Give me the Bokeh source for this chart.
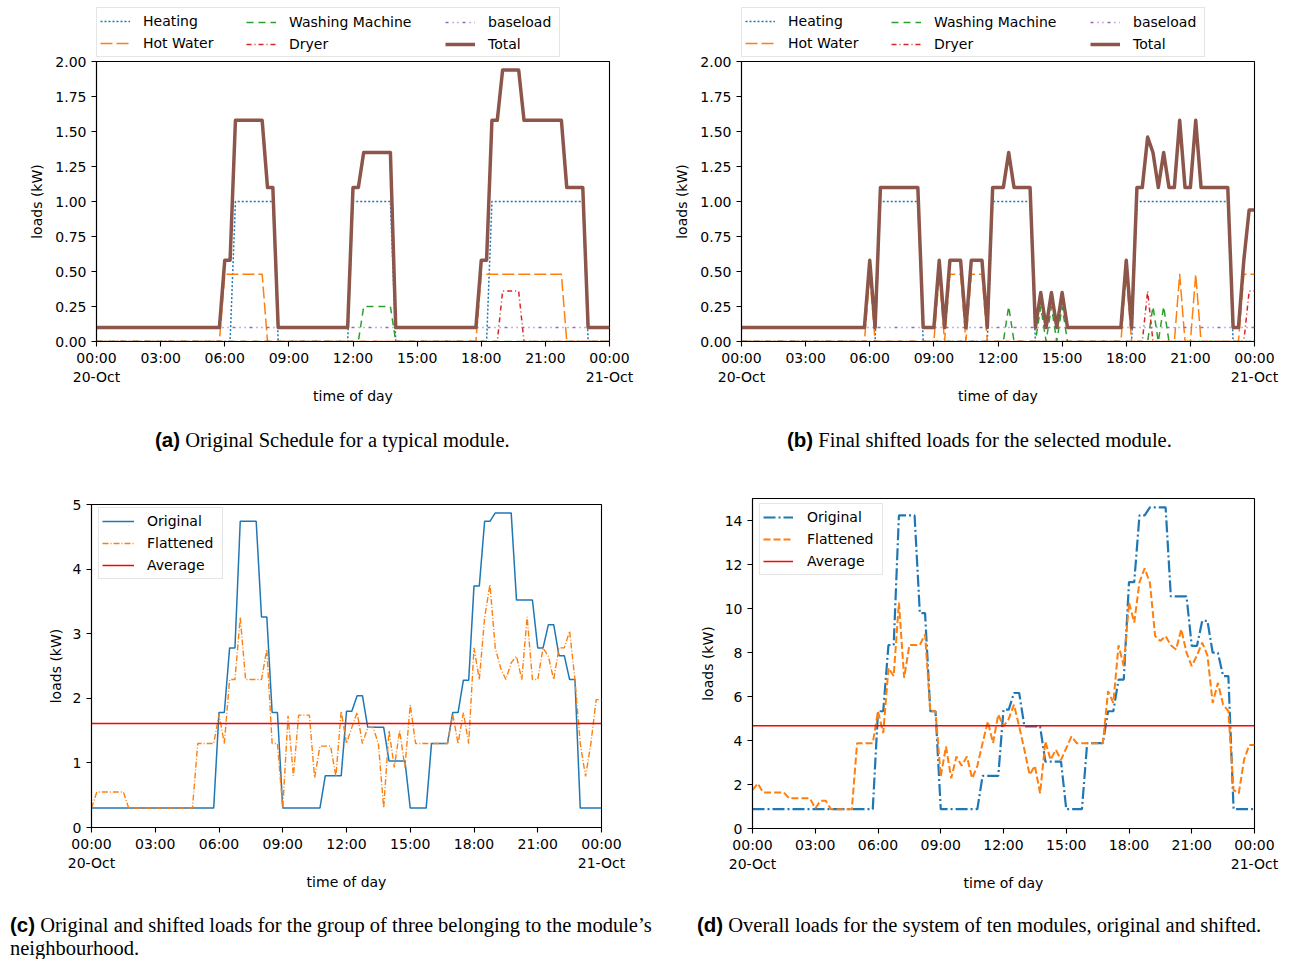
from bokeh.plotting import figure
from bokeh.models import Range1d, FixedTicker, PrintfTickFormatter, Legend, LegendItem, Div
from bokeh.layouts import column, row
from bokeh.embed import file_html
from bokeh.resources import INLINE

# ---------------------------------------------------------------------------
# Time axis: 15-minute slots from 00:00 20-Oct to 00:00 21-Oct (hours)
# ---------------------------------------------------------------------------
slots = [i * 0.25 for i in range(97)]
hour_ticks = [0, 3, 6, 9, 12, 15, 18, 21, 24]
hour_labels = {0: "00:00\n20-Oct", 3: "03:00", 6: "06:00", 9: "09:00", 12: "12:00",
               15: "15:00", 18: "18:00", 21: "21:00", 24: "00:00\n21-Oct"}

# ---------------------------------------------------------------------------
# (a) original schedule of one module, kW per appliance
# ---------------------------------------------------------------------------
heating_a = [0.0] * 26 + [1.0] * 8 + [0.0] * 14 + [1.0] * 8 + [0.0] * 18 + [1.0] * 18 + [0.0] * 5
hot_water_a = [0.0] * 24 + [0.48] * 8 + [0.0] * 40 + [0.48] * 16 + [0.0] * 9
washing_a = [0.0] * 50 + [0.25] * 6 + [0.0] * 41
dryer_a = [0.0] * 76 + [0.36] * 4 + [0.0] * 17
baseload_a = [0.1] * 97

# ---------------------------------------------------------------------------
# (b) shifted schedule of the same module, kW per appliance
# ---------------------------------------------------------------------------
heating_b = [0.0] * 26 + [1.0] * 8 + [0.0] * 13 + [1.0] * 8 + [0.0] * 19 + [1.0] * 18 + [0.0] * 5
hot_water_b = ([0.0] * 24 + [0.48] + [0.0] * 12 + [0.48] + [0.0] + [0.48] * 3 + [0.0] + [0.48] * 3
               + [0.0] * 26 + [0.48] + [0.0] * 9 + [0.48] + [0.0] * 2 + [0.48] + [0.0] * 8 + [0.48] * 3)
washing_b = ([0.0] * 50 + [0.25] + [0.0] * 5 + [0.25] + [0.0] + [0.25] + [0.0] + [0.25]
             + [0.0] * 16 + [0.25] + [0.0] + [0.25] + [0.0] * 17)
dryer_b = [0.0] * 76 + [0.36] + [0.0] * 18 + [0.36] * 2
baseload_b = [0.1] * 97

# ---------------------------------------------------------------------------
# (c) group of three modules, kW
# ---------------------------------------------------------------------------
group_original = ([0.3] * 24 + [1.78] * 2 + [2.78] * 2 + [4.74] * 4 + [3.26] * 2 + [1.78] * 2
                  + [0.3] * 8 + [0.8] * 4 + [1.8] * 2 + [2.04] * 2 + [1.55] * 4 + [1.03] * 4
                  + [0.3] * 4 + [1.3] * 4 + [1.78] * 2 + [2.28] * 2 + [3.74] * 2 + [4.74] * 2
                  + [4.87] * 4 + [3.52] * 4 + [2.78] * 2 + [3.14] * 2 + [2.66] * 2 + [2.29] * 2
                  + [0.3] * 5)
group_flattened = [
    0.3, 0.55, 0.55, 0.55, 0.55, 0.55, 0.55, 0.3, 0.3, 0.3, 0.3, 0.3, 0.3, 0.3, 0.3, 0.3,
    0.3, 0.3, 0.3, 0.3, 1.3, 1.3, 1.3, 1.3, 1.75, 1.3, 2.29, 2.29, 3.25, 2.29, 2.29, 2.29,
    2.29, 2.76, 1.3, 1.3, 0.3, 1.73, 0.8, 1.74, 1.74, 1.74, 0.77, 1.26, 1.26, 1.26, 0.79, 1.8,
    1.3, 1.55, 1.78, 1.3, 1.55, 1.55, 1.3, 0.3, 1.5, 0.93, 1.5, 0.93, 1.9, 1.3, 1.3, 1.3,
    1.3, 1.3, 1.3, 1.3, 1.75, 1.3, 1.78, 1.3, 2.78, 2.29, 3.25, 3.76, 2.78, 2.47, 2.29, 2.55,
    2.65, 2.29, 3.26, 2.29, 2.29, 2.78, 2.65, 2.29, 2.78, 2.78, 3.04, 2.29, 1.3, 0.79, 1.3, 1.98,
    1.98]
group_average = 1.61

# ---------------------------------------------------------------------------
# (d) whole system of ten modules, kW
# ---------------------------------------------------------------------------
system_original = ([0.88] * 24 + [5.33] * 2 + [8.34] * 2 + [14.23] * 4 + [9.79] * 2 + [5.33] * 2
                   + [0.88] * 8 + [2.39] * 4 + [5.4] * 2 + [6.16] * 2 + [4.64] * 4 + [3.04] * 4
                   + [0.88] * 4 + [3.88] * 4 + [5.33] * 2 + [6.77] * 2 + [11.2] * 2 + [14.23] * 2
                   + [14.6] * 4 + [10.55] * 4 + [8.3] * 2 + [9.44] * 2 + [7.99] * 2 + [6.93] * 2
                   + [0.88] * 5)
system_flattened = [
    1.75, 2.05, 1.64, 1.64, 1.64, 1.64, 1.64, 1.37, 1.37, 1.37, 1.37, 1.37, 0.91, 1.26, 1.26, 0.88,
    0.88, 0.88, 0.88, 0.88, 3.88, 3.88, 3.88, 3.88, 5.33, 4.34, 7.3, 6.93, 10.27, 6.85, 8.34, 8.34,
    8.34, 8.83, 5.33, 5.33, 2.36, 3.73, 2.28, 3.27, 2.85, 3.27, 2.28, 2.85, 3.88, 4.87, 3.88, 5.18,
    4.64, 4.98, 5.63, 4.64, 3.58, 2.44, 2.85, 1.6, 3.96, 3.12, 3.58, 3.12, 3.65, 4.19, 3.88, 3.88,
    3.88, 3.88, 3.88, 3.88, 6.24, 5.71, 8.33, 7.38, 10.27, 9.36, 11.19, 11.83, 11.16, 8.75, 8.52, 8.75,
    8.33, 8.14, 9.06, 7.99, 7.38, 7.87, 8.45, 7.87, 5.71, 6.62, 5.63, 5.33, 1.75, 1.6, 3.12, 3.8,
    3.8]
system_average = 4.67

# ---------------------------------------------------------------------------
# Styling helpers
# ---------------------------------------------------------------------------
FONT = "DejaVu Sans"
BLUE, ORANGE, GREEN, RED, PURPLE, BROWN = "#1f77b4", "#ff7f0e", "#2ca02c", "#d62728", "#9467bd", "#8c564b"

# line styles of the appliance panels: (label, colour, width, dash)
APPLIANCE_STYLES = [("Heating", BLUE, 1.5, "2 2"),
                    ("Hot Water", ORANGE, 1.5, "12 4"),
                    ("Washing Machine", GREEN, 1.5, "7 5"),
                    ("Dryer", RED, 1.5, "5 3 1 3"),
                    ("baseload", PURPLE, 1.5, "3 4 1 4 1 4"),
                    ("Total", BROWN, 3.5, "solid")]


def panel(frame_w, frame_h, left, right, top, bottom, ymax, yticks, yfmt, ylabel_standoff):
    p = figure(frame_width=frame_w, frame_height=frame_h,
               min_border_left=left, min_border_right=right,
               min_border_top=top, min_border_bottom=bottom,
               x_range=Range1d(0, 24), y_range=Range1d(0, ymax),
               output_backend="svg", toolbar_location=None)
    p.grid.visible = False
    p.background_fill_color = "white"
    p.border_fill_color = "white"
    p.outline_line_color = "black"
    p.outline_line_width = 1.1
    p.outline_line_alpha = 1.0
    for ax in (p.xaxis[0], p.yaxis[0]):
        ax.axis_line_width = 1.1
        ax.axis_line_color = "black"
        ax.major_tick_out = 5
        ax.major_tick_in = 0
        ax.minor_tick_out = 0
        ax.minor_tick_in = 0
        ax.major_tick_line_width = 1.1
        ax.major_label_text_font = FONT
        ax.major_label_text_font_size = "14px"
        ax.major_label_text_color = "black"
        ax.axis_label_text_font = FONT
        ax.axis_label_text_font_size = "14px"
        ax.axis_label_text_font_style = "normal"
        ax.axis_label_text_color = "black"
    xa = p.xaxis[0]
    xa.ticker = FixedTicker(ticks=hour_ticks)
    xa.major_label_overrides = hour_labels
    xa.major_label_standoff = 3
    xa.axis_label = "time of day"
    xa.axis_label_standoff = 0
    ya = p.yaxis[0]
    ya.ticker = FixedTicker(ticks=yticks)
    ya.formatter = PrintfTickFormatter(format=yfmt)
    ya.major_label_standoff = 5
    ya.axis_label = "loads (kW)"
    ya.axis_label_standoff = ylabel_standoff
    return p


def style_legend(leg, glyph_w, standoff, padding, label_w, boxed=True):
    leg.label_text_font = FONT
    leg.label_text_font_size = "14px"
    leg.label_text_color = "black"
    leg.glyph_width = glyph_w
    leg.glyph_height = 20
    leg.label_height = 20
    leg.label_width = label_w
    leg.label_standoff = standoff
    leg.spacing = 2
    leg.padding = padding
    leg.margin = 0
    if boxed:
        leg.border_line_color = "#cccccc"
        leg.border_line_width = 1
        leg.background_fill_color = "white"
        leg.background_fill_alpha = 0.8
    else:
        leg.border_line_alpha = 0
        leg.background_fill_alpha = 0


def appliance_panel(heating, hot_water, washing, dryer, baseload, left, right):
    total = [round(h + w + m + d + b, 2) for h, w, m, d, b in zip(heating, hot_water, washing, dryer, baseload)]
    p = panel(513, 280, left, right, 8, 79, 2.0,
              [0.0, 0.25, 0.5, 0.75, 1.0, 1.25, 1.5, 1.75, 2.0], "%.2f", 7)
    p.border_fill_alpha = 0
    for series, (_, color, width, dash) in zip([heating, hot_water, washing, dryer, baseload, total],
                                               APPLIANCE_STYLES):
        p.line(slots, series, line_color=color, line_width=width, line_dash=dash, line_join="round")
    return p


def legend_strip(left, right):
    """Strip above an appliance panel holding its three-column legend."""
    q = figure(frame_width=513, frame_height=58, min_border_left=left, min_border_right=right,
               min_border_top=0, min_border_bottom=0,
               x_range=Range1d(0, 1), y_range=Range1d(0, 1),
               x_axis_location=None, y_axis_location=None,
               output_backend="svg", toolbar_location=None)
    q.grid.visible = False
    q.outline_line_color = None
    q.background_fill_alpha = 0
    q.border_fill_alpha = 0
    # the strip tucks 5 px under the panel below it
    q.margin = (0, 0, -5, 0)
    keys = []
    for label, color, width, dash in APPLIANCE_STYLES:
        # key samples sit outside the strip's visible range; only their legend glyphs show
        r = q.line(x=[-2, -1], y=[-2, -2], line_color=color, line_width=width, line_dash=dash)
        keys.append((label, r))
    # the first column carries the legend frame for all three columns
    columns = [(keys[0:2], 0, 413, True), (keys[2:4], 147, 20, False), (keys[4:6], 346, 20, False)]
    for entries, dx, lw, boxed in columns:
        leg = Legend(items=[LegendItem(label=t, renderers=[r]) for t, r in entries],
                     location=(dx, 1))
        style_legend(leg, 30, 13, 3, lw, boxed)
        q.add_layout(leg)
    return q


# ---------------------------------------------------------------------------
# Panels
# ---------------------------------------------------------------------------
fig_a = appliance_panel(heating_a, hot_water_a, washing_a, dryer_a, baseload_a, 96, 37)
fig_b = appliance_panel(heating_b, hot_water_b, washing_b, dryer_b, baseload_b, 95, 39)
key_a = legend_strip(96, 37)
key_b = legend_strip(95, 39)

fig_c = panel(510, 323, 91, 45, 34, 73, 5, [0, 1, 2, 3, 4, 5], "%d", 6)
rc1 = fig_c.line(slots, group_original, line_color=BLUE, line_width=1.5)
rc2 = fig_c.line(slots, group_flattened, line_color=ORANGE, line_width=1.4, line_dash="6 2 1 2")
rc3 = fig_c.line([0, 24], [group_average, group_average], line_color="#ff0000", line_width=1.5)
leg_c = Legend(items=[LegendItem(label="Original", renderers=[rc1]),
                      LegendItem(label="Flattened", renderers=[rc2]),
                      LegendItem(label="Average", renderers=[rc3])],
               location=(7, 248))
style_legend(leg_c, 32, 13, 3, 72)
fig_c.add_layout(leg_c)

fig_d = panel(502, 330, 106, 39, 28, 72, 15, [0, 2, 4, 6, 8, 10, 12, 14], "%d", 6)
rd1 = fig_d.line(slots, system_original, line_color=BLUE, line_width=2.2, line_dash="12 3 2 3")
rd2 = fig_d.line(slots, system_flattened, line_color=ORANGE, line_width=2.0, line_dash="7 3")
rd3 = fig_d.line([0, 24], [system_average, system_average], line_color="#ff0000", line_width=1.5)
leg_d = Legend(items=[LegendItem(label="Original", renderers=[rd1]),
                      LegendItem(label="Flattened", renderers=[rd2]),
                      LegendItem(label="Average", renderers=[rd3])],
               location=(7, 253))
style_legend(leg_d, 30, 14, 3, 72)
fig_d.add_layout(leg_d)

# ---------------------------------------------------------------------------
# Captions
# ---------------------------------------------------------------------------
SERIF = "font-family:'Liberation Serif','Times New Roman',serif;font-size:20.5px;color:#000;white-space:nowrap;"
TAG = "font-family:'Liberation Sans',Arial,sans-serif;font-weight:bold;"


def caption(tag, body, width, height, pad_left, pad_top, line_h):
    html = (f'<div style="{SERIF}line-height:{line_h}px;padding-left:{pad_left}px;padding-top:{pad_top}px;">'
            f'<span style="{TAG}">{tag}</span> {body}</div>')
    return Div(text=html, width=width, height=height, margin=0)


cap_a = caption("(a)", "Original Schedule for a typical module.", 646, 50, 155, 8, 24)
cap_b = caption("(b)", "Final shifted loads for the selected module.", 647, 50, 141, 8, 24)
cap_c = caption("(c)", "Original and shifted loads for the group of three belonging to the module\u2019s<br>neighbourhood.",
                660, 59, 10, 13, 23)
cap_d = caption("(d)", "Overall loads for the system of ten modules, original and shifted.", 633, 59, 37, 13, 23)

root = column(row(column(key_a, fig_a), column(key_b, fig_b)),
              row(cap_a, cap_b),
              row(column(fig_c), column(fig_d)),
              row(cap_c, cap_d))

html = file_html(root, INLINE, title="Load shifting")
html = html.replace("<body>", '<body style="margin:0">', 1)
open("out.html", "w").write(html)
